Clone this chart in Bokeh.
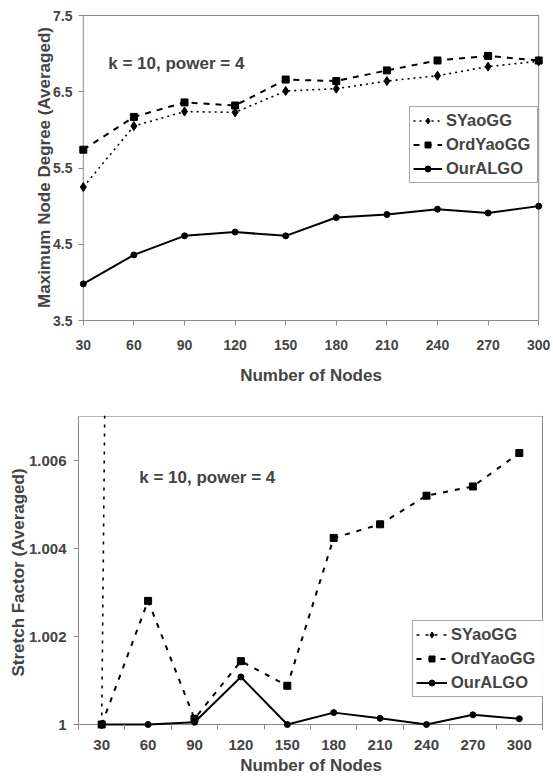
import math
from bokeh.plotting import figure
from bokeh.models import FixedTicker, Span, Label, Range1d
from bokeh.layouts import column
from bokeh.embed import file_html
from bokeh.resources import INLINE

# ---------------- data ----------------
nodes = [30, 60, 90, 120, 150, 180, 210, 240, 270, 300]
node_labels = ["30", "60", "90", "120", "150", "180", "210", "240", "270", "300"]
series_names = ["SYaoGG", "OrdYaoGG", "OurALGO"]

# Maximum node degree (averaged)
deg_syao = [5.25, 6.05, 6.24, 6.23, 6.51, 6.54, 6.64, 6.71, 6.83, 6.90]
deg_ord = [5.74, 6.17, 6.36, 6.32, 6.66, 6.64, 6.78, 6.91, 6.97, 6.91]
deg_our = [3.98, 4.36, 4.61, 4.66, 4.61, 4.85, 4.89, 4.96, 4.91, 5.00]
deg_ticks = [3.5, 4.5, 5.5, 6.5, 7.5]
deg_tick_labels = ["3.5", "4.5", "5.5", "6.5", "7.5"]

# Stretch factor (averaged); SYaoGG leaves the visible range after 30 nodes
st_syao = [1.0, 1.109, 1.098, 1.104, 1.101, 1.106, 1.103, 1.105, 1.102, 1.104]
st_ord = [1.0, 1.00281, 1.00013, 1.00144, 1.00088, 1.00424, 1.00455, 1.00520, 1.00541, 1.00617]
st_our = [1.0, 1.0, 1.00005, 1.00108, 1.0, 1.00027, 1.00014, 1.0, 1.00022, 1.00013]
st_ticks = [1.0, 1.002, 1.004, 1.006]
st_tick_labels = ["1", "1.002", "1.004", "1.006"]
st_top = 1.007

annotation = "k = 10, power = 4"
x_title = "Number of Nodes"
y_title_top = "Maximum Node Degree (Averaged)"
y_title_bottom = "Stretch Factor (Averaged)"

FONT = "Liberation Sans"
GRAY = "#8a8a8a"
W = 553


def style_title(axis, text, standoff):
    axis.axis_label = text
    axis.axis_label_standoff = standoff
    axis.axis_label_text_font = FONT
    axis.axis_label_text_font_style = "bold"
    axis.axis_label_text_font_size = "17px"


# ---------------- top chart geometry (pixels in the figure) ----------------
T_X0, T_X1 = 64, 538          # pixel of first / last node
T_YTOP, T_YBOT = 15, 320      # pixel of top / bottom tick
T_H = 389
px_per_node = (T_X1 - T_X0) / (nodes[-1] - nodes[0])
px_per_deg = (T_YBOT - T_YTOP) / (deg_ticks[-1] - deg_ticks[0])
xpad = 5 / px_per_node


def tx(px):
    return nodes[0] + (px - T_X0) / px_per_node


def ty(py):
    return deg_ticks[0] + (T_YBOT - py) / px_per_deg


p1 = figure(width=W, height=T_H, output_backend="svg", toolbar_location=None,
            x_range=Range1d(nodes[0] - xpad, nodes[-1] + xpad),
            y_range=Range1d(deg_ticks[0], deg_ticks[-1] + 1 / px_per_deg),
            min_border_left=T_X0 - 5, min_border_right=W - (T_X1 + 5),
            min_border_top=T_YTOP - 1, min_border_bottom=T_H - T_YBOT)
p1.outline_line_color = None
p1.grid.visible = False

xa = p1.xaxis[0]
xa.ticker = FixedTicker(ticks=nodes)
xa.major_label_overrides = {n: l for n, l in zip(nodes, node_labels)}
xa.bounds = (nodes[0], nodes[-1])
xa.axis_line_color = GRAY
xa.major_tick_line_color = GRAY
xa.major_tick_out = 5
xa.major_tick_in = 0
xa.minor_tick_line_color = None
xa.major_label_standoff = 14
xa.major_label_text_font = FONT
xa.major_label_text_font_style = "bold"
xa.major_label_text_font_size = "14px"
style_title(xa, x_title, 13)

ya = p1.yaxis[0]
ya.ticker = FixedTicker(ticks=deg_ticks)
ya.major_label_overrides = {t: l for t, l in zip(deg_ticks, deg_tick_labels)}
ya.axis_line_color = None
ya.major_tick_line_color = GRAY
ya.major_tick_in = 5
ya.major_tick_out = 0
ya.minor_tick_line_color = None
ya.major_label_standoff = 6
ya.major_label_text_font = FONT
ya.major_label_text_font_style = "bold"
ya.major_label_text_font_size = "14px"
style_title(ya, y_title_top, -4)

p1.add_layout(Span(location=nodes[0], dimension="height", line_color=GRAY, line_width=1, level="underlay"))
p1.add_layout(Span(location=nodes[-1], dimension="height", line_color=GRAY, line_width=1, level="underlay"))
p1.segment(x0=[nodes[0]], y0=[deg_ticks[-1]], x1=[nodes[-1]], y1=[deg_ticks[-1]],
           line_color=GRAY, line_width=1, level="underlay")

p1.line(nodes, deg_syao, line_color="black", line_width=1.6, line_dash="2 4", legend_label=series_names[0])
p1.scatter(nodes, deg_syao, marker="diamond", size=9, color="black", legend_label=series_names[0])
p1.line(nodes, deg_ord, line_color="black", line_width=2, line_dash="6 6", legend_label=series_names[1])
p1.scatter(nodes, deg_ord, marker="square", size=7, color="black", legend_label=series_names[1])
p1.line(nodes, deg_our, line_color="black", line_width=2, legend_label=series_names[2])
p1.scatter(nodes, deg_our, marker="circle", size=6, color="black", legend_label=series_names[2])

p1.add_layout(Label(x=tx(90), y=ty(63), text=annotation, text_font=FONT, text_font_style="bold",
                    text_font_size="17px", text_baseline="alphabetic", text_align="left"))

lg = p1.legend[0]
lg.location = (390 - (T_X0 - 5), T_YBOT - 183)
lg.margin = 0
lg.padding = 3
lg.spacing = 3
lg.glyph_width = 29
lg.glyph_height = 15
lg.label_height = 21
lg.label_width = 88
lg.label_standoff = 4
lg.border_line_color = "#505050"
lg.border_line_width = 1
lg.label_text_font = FONT
lg.label_text_font_style = "bold"
lg.label_text_font_size = "16.5px"

# ---------------- bottom chart geometry ----------------
idx = list(range(len(nodes)))
B_TOP = T_H                 # figure starts here on the page
B_H = 779 - T_H
B_XL = 78                   # left edge of first category
px_per_cat = 46.6
B_YTOP, B_YBOT = 416, 724   # page pixel of st_top / st_ticks[0]
px_per_st = (B_YBOT - B_YTOP) / (st_top - st_ticks[0])


def bx(px):
    return -0.5 + (px - B_XL) / px_per_cat


def by(py):
    return st_ticks[0] + (B_YBOT - py) / px_per_st


frame_right = B_XL + px_per_cat * len(nodes) + 1
p2 = figure(width=W, height=B_H, output_backend="svg", toolbar_location=None,
            x_range=Range1d(-0.5, len(nodes) - 0.5 + 1 / px_per_cat),
            y_range=Range1d(st_ticks[0] - 5 / px_per_st, st_top + 1 / px_per_st),
            min_border_left=B_XL, min_border_right=int(round(W - frame_right)),
            min_border_top=B_YTOP - 1 - B_TOP, min_border_bottom=(B_TOP + B_H) - (B_YBOT + 5))
p2.outline_line_color = None
p2.grid.visible = False

xb = p2.xaxis[0]
xb.ticker = FixedTicker(ticks=idx, minor_ticks=[i - 0.5 for i in range(len(nodes) + 1)])
xb.major_label_overrides = {i: l for i, l in zip(idx, node_labels)}
xb.axis_line_color = None
xb.major_tick_line_color = None
xb.major_tick_in = 0
xb.major_tick_out = 0
xb.minor_tick_line_color = GRAY
xb.minor_tick_in = 5
xb.minor_tick_out = 0
xb.major_label_standoff = 10
xb.major_label_text_font = FONT
xb.major_label_text_font_style = "bold"
xb.major_label_text_font_size = "15px"
style_title(xb, x_title, 3)

yb = p2.yaxis[0]
yb.ticker = FixedTicker(ticks=st_ticks)
yb.major_label_overrides = {t: l for t, l in zip(st_ticks, st_tick_labels)}
yb.bounds = (st_ticks[0], st_top)
yb.axis_line_color = GRAY
yb.major_tick_line_color = GRAY
yb.major_tick_out = 5
yb.major_tick_in = 0
yb.minor_tick_line_color = None
yb.major_label_standoff = 7
yb.major_label_text_font = FONT
yb.major_label_text_font_style = "bold"
yb.major_label_text_font_size = "15px"
style_title(yb, y_title_bottom, -2)

p2.add_layout(Span(location=st_ticks[0], dimension="width", line_color=GRAY, line_width=1, level="underlay"))
p2.add_layout(Span(location=st_top, dimension="width", line_color="#b5b5b5", line_width=1, level="underlay"))
p2.add_layout(Span(location=len(nodes) - 0.5, dimension="height", line_color=GRAY, line_width=1, level="underlay"))

p2.line(idx, st_syao, line_color="black", line_width=1.6, line_dash="3 6", legend_label=series_names[0])
p2.scatter(idx, st_syao, marker="diamond", size=9, color="black", legend_label=series_names[0])
p2.line(idx, st_ord, line_color="black", line_width=2, line_dash="5 7", legend_label=series_names[1])
p2.scatter(idx, st_ord, marker="square", size=7, color="black", legend_label=series_names[1])
p2.line(idx, st_our, line_color="black", line_width=2, legend_label=series_names[2])
p2.scatter(idx, st_our, marker="circle", size=6, color="black", legend_label=series_names[2])

p2.add_layout(Label(x=bx(139), y=by(477), text=annotation, text_font=FONT, text_font_style="bold",
                    text_font_size="17px", text_baseline="alphabetic", text_align="left"))

lg2 = p2.legend[0]
lg2.location = (412 - B_XL, (B_YBOT + 5) - 697)
lg2.margin = 0
lg2.padding = 3
lg2.spacing = 3
lg2.glyph_width = 31
lg2.glyph_height = 15
lg2.label_height = 21
lg2.label_width = 89
lg2.label_standoff = 4
lg2.border_line_color = "#505050"
lg2.border_line_width = 1
lg2.label_text_font = FONT
lg2.label_text_font_style = "bold"
lg2.label_text_font_size = "16.5px"

layout = column(p1, p2, spacing=0)
open("out.html", "w").write(file_html(layout, INLINE))
